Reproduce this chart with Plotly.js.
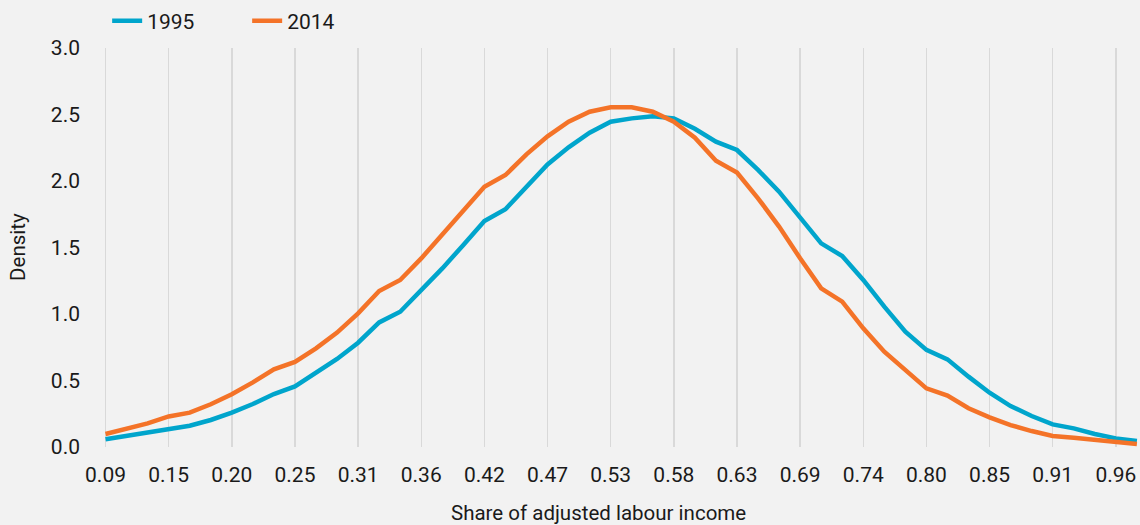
<!DOCTYPE html>
<html>
<head>
<meta charset="utf-8">
<script src="https://cdn.plot.ly/plotly-3.0.1.min.js"></script>
<style>html,body{margin:0;padding:0;background:#f2f2f2;}#chart{width:1140px;height:525px;}</style>
</head>
<body>
<div id="chart"></div>
<script>
// Share of adjusted labour income (category labels)
var shareLabels = ["0.09","0.11","0.13","0.15","0.16","0.18","0.20","0.22","0.24","0.25",
  "0.27","0.29","0.31","0.33","0.34","0.36","0.38","0.40","0.42","0.44",
  "0.45","0.47","0.49","0.51","0.53","0.54","0.56","0.58","0.60","0.62",
  "0.63","0.65","0.67","0.69","0.71","0.73","0.74","0.76","0.78","0.80",
  "0.82","0.83","0.85","0.87","0.89","0.91","0.92","0.94","0.96","0.98"];

// Tick labels shown on the x axis
var tickLabels = ["0.09","0.15","0.20","0.25","0.31","0.36","0.42","0.47","0.53",
  "0.58","0.63","0.69","0.74","0.80","0.85","0.91","0.96"];

var density1995 = [0.058,0.085,0.108,0.138,0.160,0.203,0.258,0.323,0.398,0.455,
  0.554,0.662,0.784,0.937,1.017,1.175,1.343,1.519,1.699,1.788,
  1.957,2.125,2.253,2.363,2.446,2.471,2.486,2.471,2.393,2.296,
  2.233,2.083,1.920,1.732,1.531,1.436,1.256,1.055,0.867,0.730,
  0.659,0.529,0.408,0.308,0.233,0.170,0.140,0.098,0.065,0.045];

var density2014 = [0.098,0.135,0.178,0.230,0.258,0.321,0.396,0.486,0.584,0.640,
  0.742,0.860,1.005,1.173,1.256,1.418,1.594,1.777,1.957,2.045,
  2.200,2.336,2.446,2.521,2.554,2.554,2.521,2.446,2.325,2.153,
  2.063,1.870,1.657,1.419,1.193,1.093,0.892,0.717,0.580,0.441,
  0.386,0.291,0.223,0.165,0.120,0.083,0.070,0.053,0.035,0.023];

var FONT = "Roboto, 'Noto Sans', sans-serif";

var traces = [
  {x: shareLabels, y: density1995, name: "1995", type: "scatter", mode: "lines",
   line: {color: "#00a5cc", width: 4.5}},
  {x: shareLabels, y: density2014, name: "2014", type: "scatter", mode: "lines",
   line: {color: "#f47328", width: 4.5}}
];

var layout = {
  width: 1140, height: 525,
  paper_bgcolor: "#f2f2f2", plot_bgcolor: "#f2f2f2",
  margin: {l: 95, r: 1, t: 48, b: 78},
  font: {family: FONT, size: 21, color: "#1a1a1a"},
  showlegend: true,
  legend: {orientation: "h", xref: "container", yref: "container",
           x: 0.094, y: 0.96, xanchor: "left", yanchor: "middle",
           bgcolor: "rgba(0,0,0,0)", font: {family: FONT, size: 21, color: "#1a1a1a"},
           entrywidth: 95, entrywidthmode: "pixels"},
  xaxis: {type: "category", categoryorder: "array", categoryarray: shareLabels,
          range: [-0.5, 49.1], tickmode: "array", tickvals: tickLabels, ticktext: tickLabels,
          showgrid: true, gridcolor: "#d9d9d9", gridwidth: 1.5, zeroline: false,
          showline: false, ticks: "", ticklabelstandoff: 13,
          tickfont: {family: FONT, size: 21, color: "#1a1a1a"}},
  yaxis: {range: [0, 3], dtick: 0.5, tick0: 0, tickformat: ".1f",
          showgrid: false, zeroline: false, showline: false, ticks: "",
          ticklabelstandoff: 14,
          tickfont: {family: FONT, size: 21, color: "#1a1a1a"}},
  annotations: [
    {text: "Share of adjusted labour income", xref: "paper", yref: "paper",
     x: 0.482, y: -0.166, xanchor: "center", yanchor: "middle", showarrow: false,
     font: {family: FONT, size: 20.5, color: "#1a1a1a"}},
    {text: "Density", xref: "paper", yref: "paper", textangle: -90,
     x: -0.0745, y: 0.502, xanchor: "center", yanchor: "middle", showarrow: false,
     font: {family: FONT, size: 20.5, color: "#1a1a1a"}}
  ]
};

Plotly.newPlot("chart", traces, layout, {displayModeBar: false, staticPlot: true});
</script>
</body>
</html>
